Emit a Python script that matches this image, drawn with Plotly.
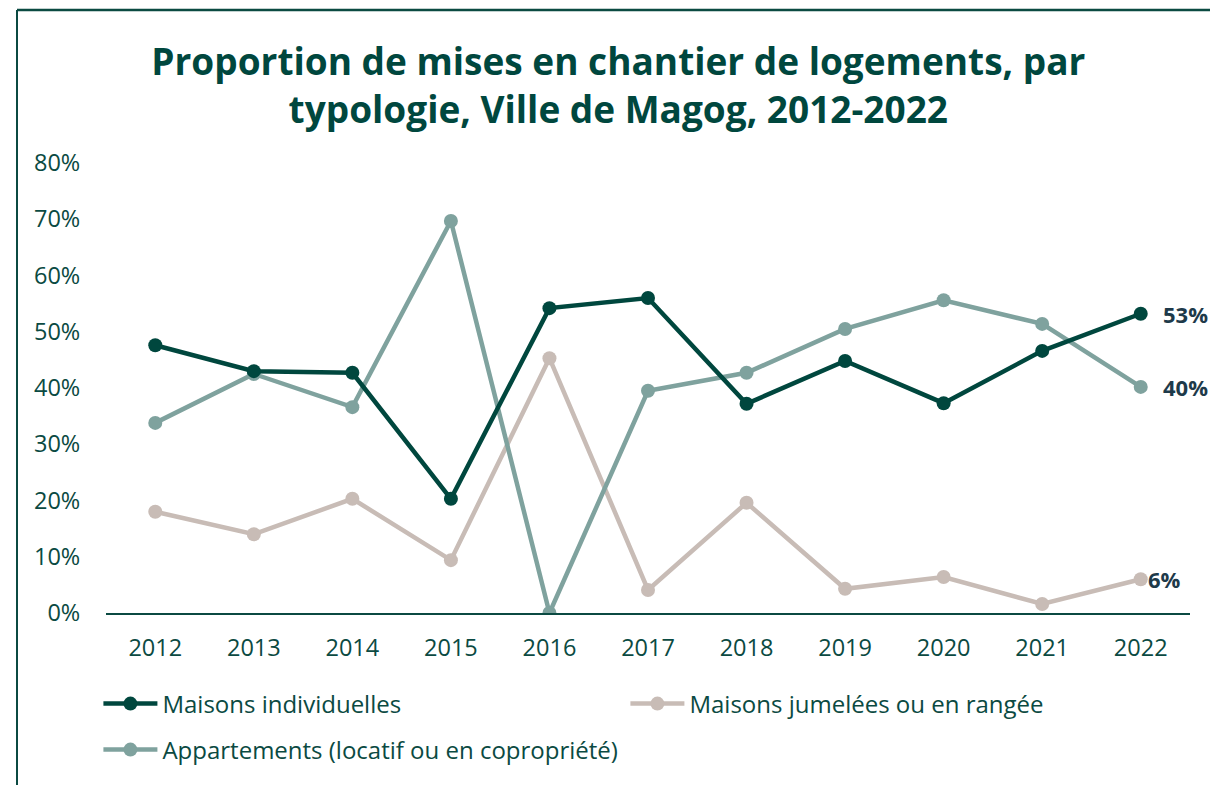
import plotly.graph_objects as go

years = ["2012", "2013", "2014", "2015", "2016", "2017", "2018", "2019", "2020", "2021", "2022"]
maisons_ind = [0.476, 0.430, 0.427, 0.203, 0.542, 0.560, 0.372, 0.448, 0.373, 0.466, 0.532]
maisons_jum = [0.180, 0.140, 0.203, 0.094, 0.453, 0.041, 0.196, 0.043, 0.064, 0.016, 0.060]
appartements = [0.338, 0.425, 0.366, 0.697, 0.000, 0.395, 0.427, 0.505, 0.556, 0.514, 0.402]
y_ticks = [0, 0.1, 0.2, 0.3, 0.4, 0.5, 0.6, 0.7, 0.8]

names = ["Maisons individuelles", "Maisons jumelées ou en rangée", "Appartements (locatif ou en copropriété)"]
colors = ["#00473E", "#C8BCB6", "#7FA29E"]
series = [maisons_ind, maisons_jum, appartements]
legends = ["legend", "legend", "legend2"]

TXT = "#0B4A42"
FONT = "Open Sans"
FS = 23.5

fig = go.Figure()
# draw order: beige, teal, dark on top
for idx in [1, 2, 0]:
    fig.add_trace(go.Scatter(
        x=years, y=series[idx], name=names[idx], mode="lines+markers",
        line=dict(color=colors[idx], width=4.5),
        marker=dict(color=colors[idx], size=14),
        legendrank=idx + 1, legend=legends[idx],
    ))

# end labels
label_shift = {0: 45, 2: 45, 1: 24}
last = len(years) - 1
for idx, xs in label_shift.items():
    v = series[idx][last]
    fig.add_annotation(
        x=last, y=v, xref="x", yref="y", text="<b>%d%%</b>" % round(v * 100),
        showarrow=False, xanchor="center", yanchor="middle", xshift=xs,
        font=dict(family=FONT, size=22, color="#1E3A4A"),
    )

leg_common = dict(
    orientation="h", xanchor="left", yanchor="middle",
    entrywidth=458, entrywidthmode="pixels", itemwidth=54,
    font=dict(family=FONT, size=24, color=TXT),
    bgcolor="rgba(0,0,0,0)", traceorder="normal",
)

fig.update_layout(
    width=1210, height=785,
    margin=dict(l=106, r=20, t=163, b=172),
    paper_bgcolor="white", plot_bgcolor="white",
    title=dict(
        text="<b>Proportion de mises en chantier de logements, par<br>typologie, Ville de Magog, 2012-2022</b>",
        x=0.511, xanchor="center", y=0.905, yanchor="middle",
        font=dict(family=FONT, size=37, color="#00473E"),
    ),
    font=dict(family=FONT, size=FS, color=TXT),
    showlegend=True,
    legend=dict(x=-0.007, y=(613 - 704) / 450, **leg_common),
    legend2=dict(x=-0.007, y=(613 - 750) / 450, **leg_common),
    xaxis=dict(
        type="category", range=[-0.5, 10.5], showgrid=False,
        showline=True, linecolor="#0B4A42", linewidth=1.5,
        ticks="outside", ticklen=13, tickcolor="rgba(0,0,0,0)",
        tickfont=dict(family=FONT, size=FS, color=TXT),
    ),
    yaxis=dict(
        range=[0, 0.8], tickvals=y_ticks, tickformat=".0%", showgrid=False,
        zeroline=False, showline=False,
        ticks="outside", ticklen=20, tickcolor="rgba(0,0,0,0)",
        tickfont=dict(family=FONT, size=FS, color=TXT),
    ),
)

# frame lines (top and left)
fig.add_shape(type="line", xref="paper", yref="paper",
              x0=(17 - 106) / 1084, x1=(1212 - 106) / 1084,
              y0=(613 - 10) / 450, y1=(613 - 10) / 450,
              line=dict(color="#0B4A42", width=2.5))
fig.add_shape(type="line", xref="paper", yref="paper",
              x0=(17 - 106) / 1084, x1=(17 - 106) / 1084,
              y0=(613 - 10) / 450, y1=(613 - 790) / 450,
              line=dict(color="#0B4A42", width=2))

fig.write_html("out.html", config={"displayModeBar": False},
               post_script="document.body.style.margin='0';document.body.style.overflow='hidden';")
